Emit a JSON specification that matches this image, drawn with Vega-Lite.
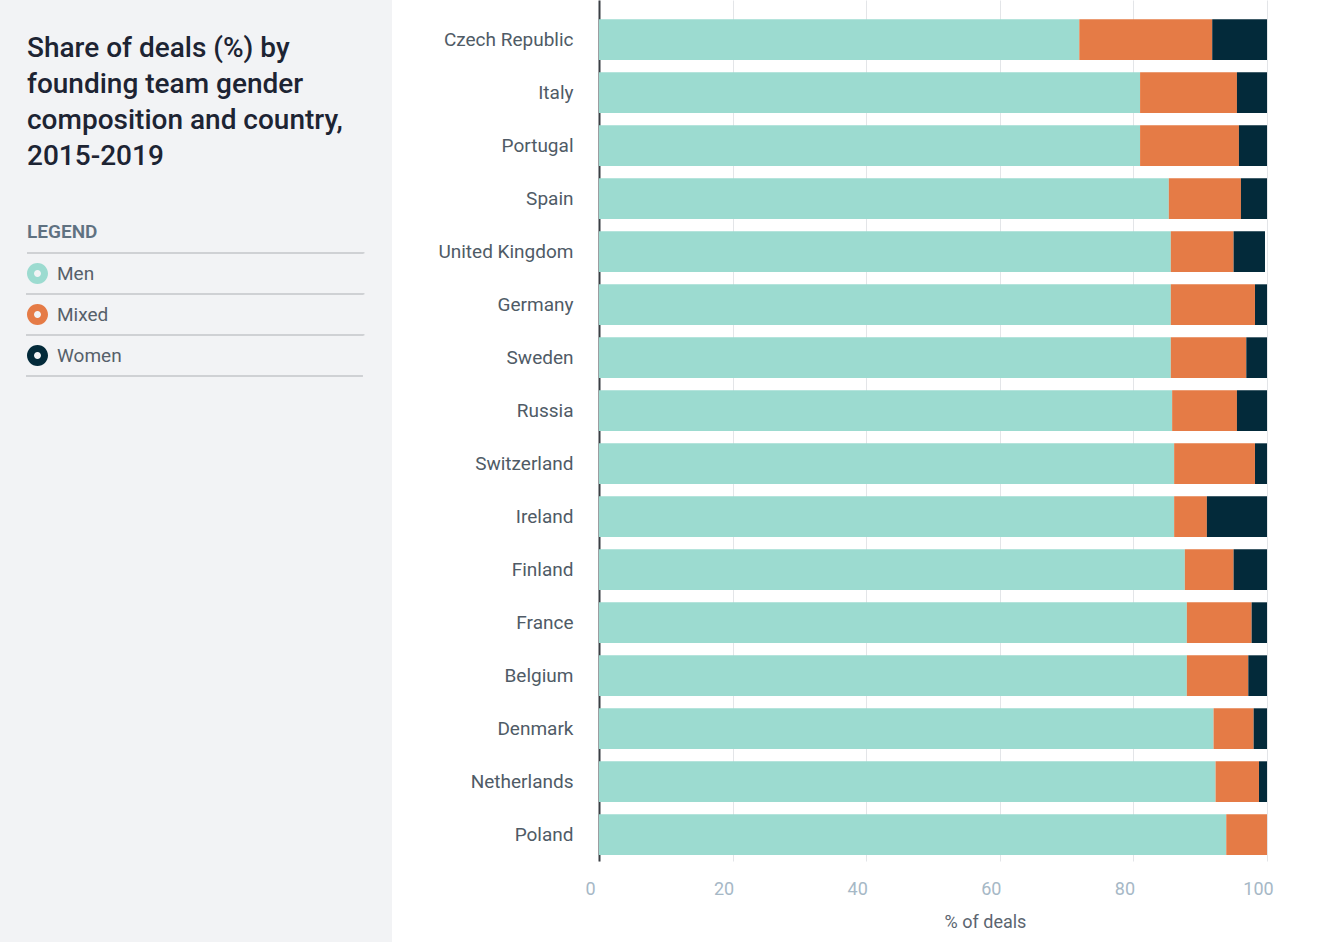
{
  "$schema": "https://vega.github.io/schema/vega-lite/v6.json",
  "padding": 0,
  "spacing": 0,
  "background": "#ffffff",
  "config": {
    "font": "Roboto",
    "view": {"stroke": null}
  },
  "data": {
    "values": [
      {"Country": "Czech Republic", "Gender": "Men", "Share": 71.9},
      {"Country": "Czech Republic", "Gender": "Mixed", "Share": 19.9},
      {"Country": "Czech Republic", "Gender": "Women", "Share": 8.2},
      {"Country": "Italy", "Gender": "Men", "Share": 81.0},
      {"Country": "Italy", "Gender": "Mixed", "Share": 14.5},
      {"Country": "Italy", "Gender": "Women", "Share": 4.5},
      {"Country": "Portugal", "Gender": "Men", "Share": 81.0},
      {"Country": "Portugal", "Gender": "Mixed", "Share": 14.8},
      {"Country": "Portugal", "Gender": "Women", "Share": 4.2},
      {"Country": "Spain", "Gender": "Men", "Share": 85.3},
      {"Country": "Spain", "Gender": "Mixed", "Share": 10.8},
      {"Country": "Spain", "Gender": "Women", "Share": 3.9},
      {"Country": "United Kingdom", "Gender": "Men", "Share": 85.6},
      {"Country": "United Kingdom", "Gender": "Mixed", "Share": 9.4},
      {"Country": "United Kingdom", "Gender": "Women", "Share": 4.7},
      {"Country": "Germany", "Gender": "Men", "Share": 85.6},
      {"Country": "Germany", "Gender": "Mixed", "Share": 12.6},
      {"Country": "Germany", "Gender": "Women", "Share": 1.8},
      {"Country": "Sweden", "Gender": "Men", "Share": 85.6},
      {"Country": "Sweden", "Gender": "Mixed", "Share": 11.3},
      {"Country": "Sweden", "Gender": "Women", "Share": 3.1},
      {"Country": "Russia", "Gender": "Men", "Share": 85.8},
      {"Country": "Russia", "Gender": "Mixed", "Share": 9.7},
      {"Country": "Russia", "Gender": "Women", "Share": 4.5},
      {"Country": "Switzerland", "Gender": "Men", "Share": 86.1},
      {"Country": "Switzerland", "Gender": "Mixed", "Share": 12.1},
      {"Country": "Switzerland", "Gender": "Women", "Share": 1.8},
      {"Country": "Ireland", "Gender": "Men", "Share": 86.1},
      {"Country": "Ireland", "Gender": "Mixed", "Share": 4.9},
      {"Country": "Ireland", "Gender": "Women", "Share": 9.0},
      {"Country": "Finland", "Gender": "Men", "Share": 87.7},
      {"Country": "Finland", "Gender": "Mixed", "Share": 7.3},
      {"Country": "Finland", "Gender": "Women", "Share": 5.0},
      {"Country": "France", "Gender": "Men", "Share": 88.0},
      {"Country": "France", "Gender": "Mixed", "Share": 9.7},
      {"Country": "France", "Gender": "Women", "Share": 2.3},
      {"Country": "Belgium", "Gender": "Men", "Share": 88.0},
      {"Country": "Belgium", "Gender": "Mixed", "Share": 9.2},
      {"Country": "Belgium", "Gender": "Women", "Share": 2.8},
      {"Country": "Denmark", "Gender": "Men", "Share": 92.0},
      {"Country": "Denmark", "Gender": "Mixed", "Share": 6.0},
      {"Country": "Denmark", "Gender": "Women", "Share": 2.0},
      {"Country": "Netherlands", "Gender": "Men", "Share": 92.3},
      {"Country": "Netherlands", "Gender": "Mixed", "Share": 6.5},
      {"Country": "Netherlands", "Gender": "Women", "Share": 1.2},
      {"Country": "Poland", "Gender": "Men", "Share": 93.9},
      {"Country": "Poland", "Gender": "Mixed", "Share": 6.1},
      {"Country": "Poland", "Gender": "Women", "Share": 0}
    ]
  },
  "hconcat": [
    {
      "width": 392,
      "height": 942,
      "view": {"fill": "#f2f3f5", "stroke": null},
      "title": {
        "text": ["Share of deals (%) by", "founding team gender", "composition and country,", "2015-2019"],
        "orient": "top",
        "anchor": "start",
        "frame": "group",
        "offset": 0,
        "dx": 27,
        "dy": 171,
        "baseline": "top",
        "font": "Roboto",
        "fontSize": 28,
        "fontWeight": 500,
        "color": "#1d2433",
        "lineHeight": 36
      },
      "mark": {"type": "point", "opacity": 0}
    },
    {
      "width": 668,
      "height": 861,
      "mark": {"type": "bar"},
      "encoding": {
        "y": {
          "field": "Country",
          "type": "nominal",
          "sort": ["Czech Republic", "Italy", "Portugal", "Spain", "United Kingdom", "Germany", "Sweden", "Russia", "Switzerland", "Ireland", "Finland", "France", "Belgium", "Denmark", "Netherlands", "Poland"],
          "scale": {"paddingInner": 0.232, "paddingOuter": 0.2387, "align": 0.763},
          "axis": {
            "title": null,
            "ticks": false,
            "grid": false,
            "domain": true,
            "domainColor": "#3a3f44",
            "domainWidth": 2,
            "labelColor": "#4f5b66",
            "labelFontSize": 19,
            "labelPadding": 26,
            "minExtent": 207,
            "maxExtent": 207
          }
        },
        "x": {
          "field": "Share",
          "type": "quantitative",
          "stack": "zero",
          "title": "% of deals",
          "scale": {"domain": [0, 100], "nice": false},
          "axis": {
            "values": [0, 20, 40, 60, 80, 100],
            "ticks": false,
            "domain": false,
            "grid": true,
            "gridColor": "#e3e5e8",
            "labelColor": "#a6b8c6",
            "labelFontSize": 18,
            "labelFlush": false,
            "labelPadding": 19,
            "labelOffset": -9,
            "titleColor": "#5b6570",
            "titleFontSize": 18,
            "titleFontWeight": "normal",
            "titlePadding": 15,
            "titleX": 386,
            "titleAlign": "center"
          }
        },
        "color": {
          "field": "Gender",
          "type": "nominal",
          "scale": {"domain": ["Men", "Mixed", "Women"], "range": ["#9cdbd0", "#e57b46", "#032a3a"]},
          "legend": {
            "title": "LEGEND",
            "orient": "none",
            "legendX": 27,
            "legendY": 223,
            "titleFontSize": 19,
            "titleFontWeight": 600,
            "titleColor": "#5f7181",
            "titlePadding": 11,
            "labelFontSize": 19,
            "labelColor": "#56606a",
            "labelOffset": 9,
            "symbolType": "M-1,0A1,1,0,1,1,1,0A1,1,0,1,1,-1,0ZM-0.333,0A0.333,0.333,0,1,0,0.333,0A0.333,0.333,0,1,0,-0.333,0ZM30.95,0M0,-1.857M0,1.857",
            "symbolSize": 441,
            "symbolStrokeWidth": 0,
            "rowPadding": 0,
            "encode": {
              "symbols": {
                "update": {
                  "y": {"value": 20.5},
                  "strokeWidth": {"value": 0}
                }
              },
              "labels": {
                "update": {"y": {"value": 20.5}, "baseline": {"value": "middle"}}
              },
              "entries": {
                "update": {
                  "width": {"value": 337},
                  "height": {"value": 41},
                  "stroke": {"value": "#cfd1d4"},
                  "strokeWidth": {"value": 2},
                  "strokeDash": {"value": [337, 41, 337, 41]}
                }
              }
            }
          }
        }
      }
    }
  ]
}
